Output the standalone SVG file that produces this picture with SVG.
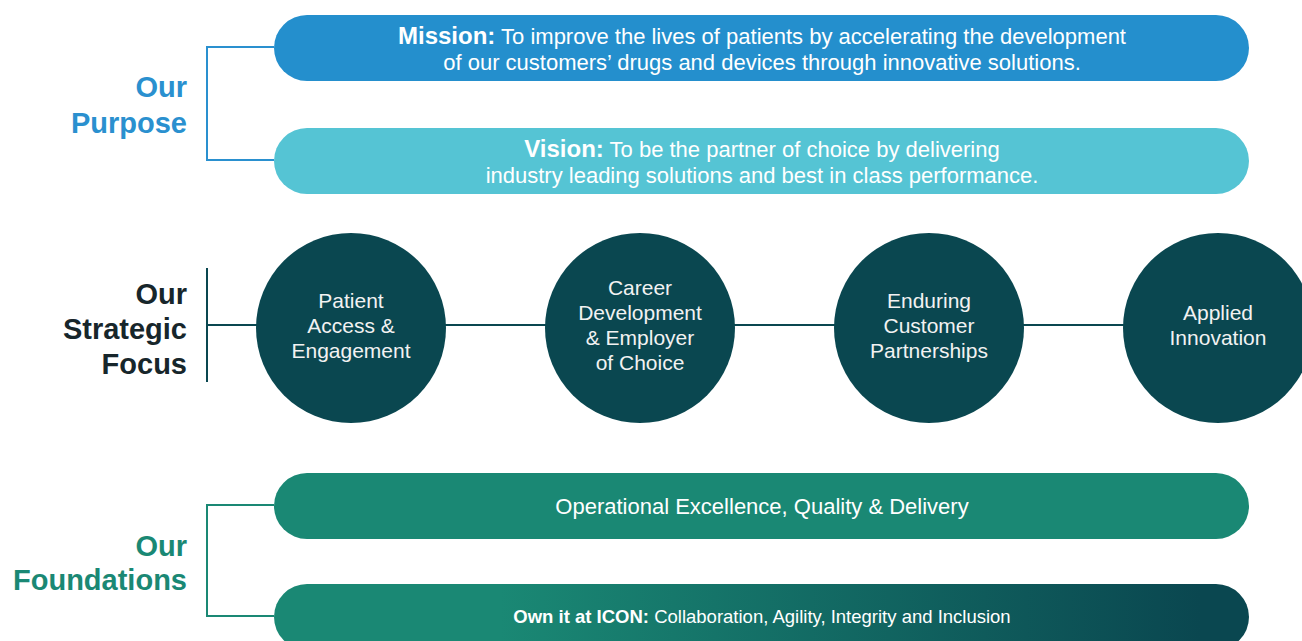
<svg xmlns="http://www.w3.org/2000/svg" width="1302" height="641" viewBox="0 0 1302 641">
<defs>
<linearGradient id="own" gradientUnits="userSpaceOnUse" x1="500" y1="0" x2="1200" y2="0">
<stop offset="0" stop-color="#1a8874"/>
<stop offset="1" stop-color="#0a4750"/>
</linearGradient>
</defs>
<style>
text{font-family:"Liberation Sans",Arial,sans-serif}
.hd{font-size:29px;font-weight:bold;text-anchor:end}
.pt{font-size:22px;fill:#ffffff;text-anchor:middle}
.pt.sm{font-size:18.5px}
.ct{font-size:21px;fill:#f2f2f2;text-anchor:middle}
.b{font-weight:bold}
.circle{fill:#0a4750}
.conn{fill:none;stroke-width:2}
</style>
<rect width="1302" height="641" fill="#ffffff"/>

<g id="connectors">
<path class="conn" stroke="#2a90cf" d="M274,47 H207 V160 H274"/>
<path class="conn" stroke="#0a4750" d="M207,268 V382 M207,325 H1218"/>
<path class="conn" stroke="#1a8874" d="M274,505 H207 V616 H274"/>
</g>

<g id="label-purpose">
<text class="hd" fill="#2a90cf" x="187" y="97">Our</text>
<text class="hd" fill="#2a90cf" x="187" y="133">Purpose</text>
</g>
<g id="label-strategic">
<text class="hd" fill="#17262b" x="187" y="304">Our</text>
<text class="hd" fill="#17262b" x="187" y="339">Strategic</text>
<text class="hd" fill="#17262b" x="187" y="374">Focus</text>
</g>
<g id="label-foundations">
<text class="hd" fill="#1a8874" x="187" y="556">Our</text>
<text class="hd" fill="#1a8874" x="187" y="590">Foundations</text>
</g>

<g id="mission">
<rect x="274" y="15" width="975" height="66" rx="33" fill="#248fcd"/>
<text class="pt" x="762" y="44"><tspan class="b" font-size="24px">Mission:</tspan> To improve the lives of patients by accelerating the development</text>
<text class="pt" x="762" y="70">of our customers’ drugs and devices through innovative solutions.</text>
</g>

<g id="vision">
<rect x="274" y="128" width="975" height="66" rx="33" fill="#55c4d4"/>
<text class="pt" x="762" y="157"><tspan class="b" font-size="24px">Vision:</tspan> To be the partner of choice by delivering</text>
<text class="pt" x="762" y="183">industry leading solutions and best in class performance.</text>
</g>

<g id="focus-patient">
<circle class="circle" cx="351" cy="328" r="95"/>
<text class="ct" x="351" y="308">Patient</text>
<text class="ct" x="351" y="333">Access &amp;</text>
<text class="ct" x="351" y="358">Engagement</text>
</g>
<g id="focus-career">
<circle class="circle" cx="640" cy="328" r="95"/>
<text class="ct" x="640" y="295">Career</text>
<text class="ct" x="640" y="320">Development</text>
<text class="ct" x="640" y="345">&amp; Employer</text>
<text class="ct" x="640" y="370">of Choice</text>
</g>
<g id="focus-customer">
<circle class="circle" cx="929" cy="328" r="95"/>
<text class="ct" x="929" y="308">Enduring</text>
<text class="ct" x="929" y="333">Customer</text>
<text class="ct" x="929" y="358">Partnerships</text>
</g>
<g id="focus-innovation">
<circle class="circle" cx="1218" cy="328" r="95"/>
<text class="ct" x="1218" y="320">Applied</text>
<text class="ct" x="1218" y="345">Innovation</text>
</g>

<g id="operational">
<rect x="274" y="473" width="975" height="66" rx="33" fill="#1a8874"/>
<text class="pt" x="762" y="514">Operational Excellence, Quality &amp; Delivery</text>
</g>
<g id="own-it">
<rect x="274" y="584" width="975" height="66" rx="33" fill="url(#own)"/>
<text class="pt sm" x="762" y="623"><tspan class="b">Own it at ICON:</tspan> Collaboration, Agility, Integrity and Inclusion</text>
</g>
</svg>
